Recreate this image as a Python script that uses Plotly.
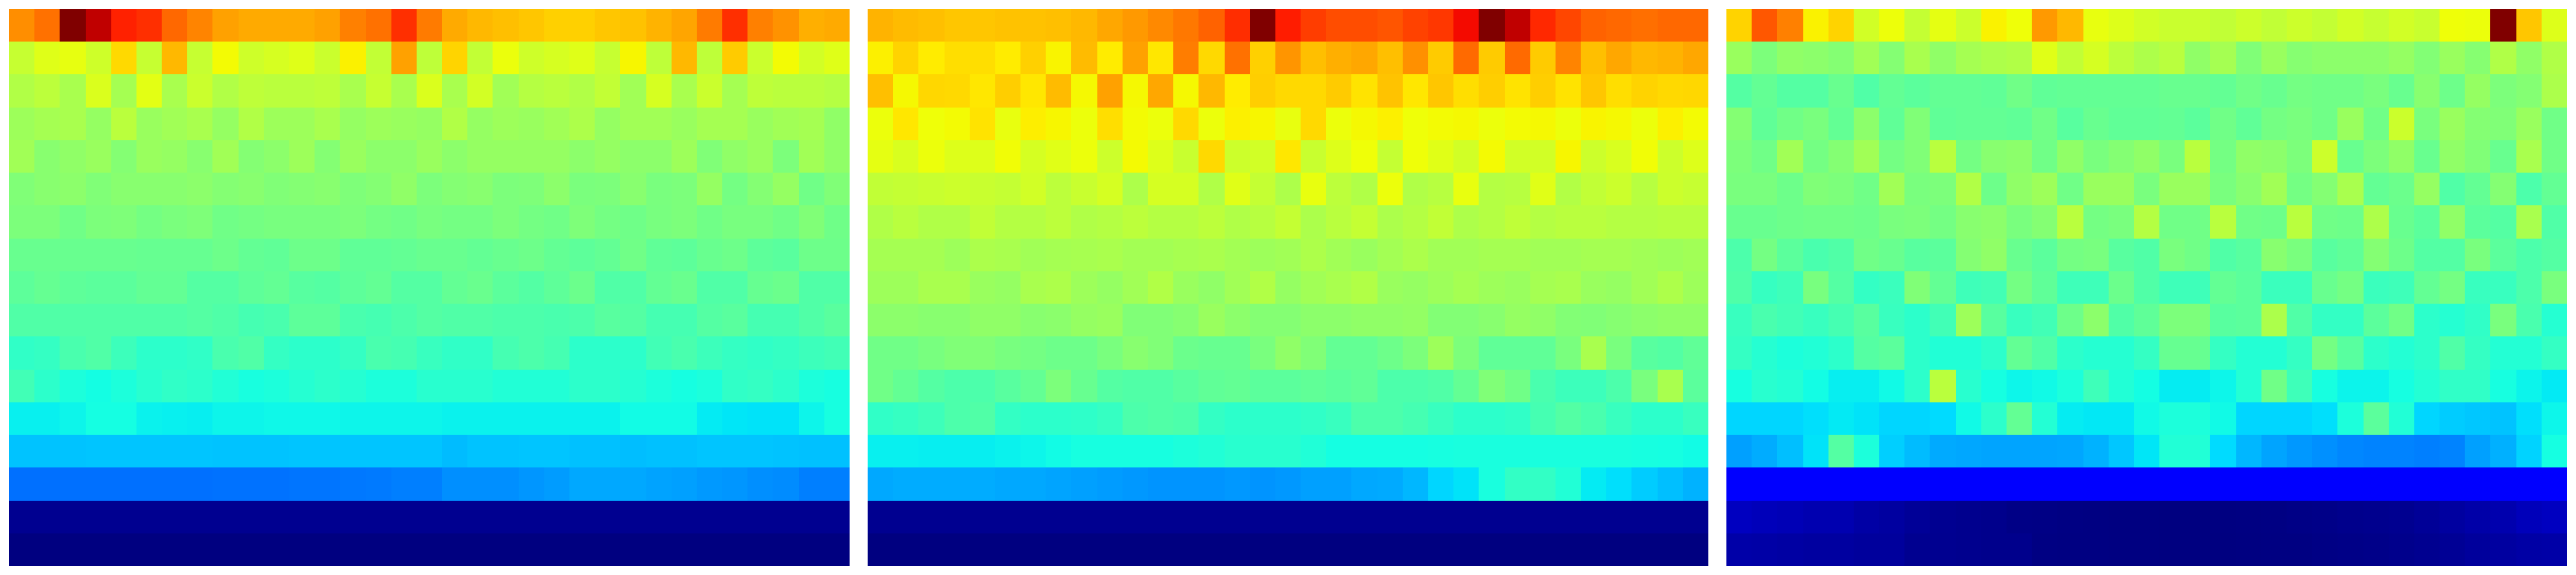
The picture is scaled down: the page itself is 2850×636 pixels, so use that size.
import plotly.graph_objects as go

# Cell values (per mille of the colour range), top row first, 33 columns x 17 rows
panel_a = [
[760,790,1000,945,875,860,800,770,740,730,730,730,740,775,790,860,780,730,715,708,700,690,690,700,705,720,735,780,860,775,755,725,730],
[590,620,630,600,680,590,715,590,645,600,610,620,595,655,585,740,580,685,585,635,600,610,620,590,650,580,715,580,695,595,645,605,620],
[565,578,555,615,550,625,555,595,565,580,575,575,580,555,590,555,615,555,605,545,570,575,565,585,545,610,555,595,550,580,575,575,570],
[540,550,555,530,575,535,545,555,530,565,540,540,555,530,540,535,530,565,530,540,535,545,560,530,545,545,535,550,550,535,545,550,525],
[545,515,525,535,510,535,530,515,545,510,520,540,510,535,520,520,535,520,530,530,530,530,520,530,520,520,540,505,525,535,500,545,525],
[505,515,520,505,515,515,515,520,510,515,505,510,515,503,510,525,500,510,515,500,503,520,498,500,515,496,500,530,490,510,530,486,505],
[500,500,486,500,503,490,498,503,486,490,495,495,495,500,490,486,495,490,490,500,490,486,503,490,484,495,500,486,495,495,486,505,484],
[476,476,476,476,476,474,474,474,482,470,466,482,482,466,466,470,476,476,470,476,482,470,462,470,486,466,462,476,482,462,458,482,482],
[462,472,464,460,460,470,470,452,452,464,470,455,452,462,470,452,452,470,477,460,450,464,480,447,447,470,477,447,447,474,480,447,447],
[447,447,447,447,447,447,447,452,445,433,438,462,462,438,433,442,452,447,447,442,442,438,442,456,452,433,433,452,458,433,433,447,458],
[408,413,438,447,423,403,403,408,438,447,413,403,403,413,438,433,418,408,408,433,442,433,403,403,403,428,438,423,413,408,413,423,428],
[428,403,384,374,384,398,408,403,389,379,384,394,403,394,384,384,398,398,398,389,389,389,403,403,394,384,376,384,408,413,403,384,378],
[360,360,365,375,375,362,360,358,365,365,368,368,368,365,365,365,365,362,362,362,362,362,362,362,372,372,372,355,350,347,347,365,378],
[316,316,316,318,318,318,318,318,316,316,316,318,318,318,318,318,318,310,316,316,318,318,314,314,312,314,314,318,318,318,316,314,314],
[235,235,235,235,235,235,235,235,237,237,237,240,240,243,245,250,250,265,265,265,272,278,290,290,290,285,282,275,272,265,262,250,250],
[14]*33,
[0]*33,
]

panel_b = [
[720,712,708,700,700,705,705,708,715,733,748,765,783,806,862,1000,880,845,828,828,820,840,852,900,1000,945,868,836,806,800,792,800,800],
[656,686,660,675,675,660,690,652,712,660,740,665,778,680,790,690,752,708,725,733,708,758,695,798,695,798,695,770,708,733,715,720,733],
[708,648,682,680,665,692,665,712,648,740,648,733,648,715,660,692,680,680,695,670,703,665,700,675,692,670,692,670,700,675,686,680,682],
[636,665,640,645,670,632,658,650,636,675,645,636,680,636,656,650,632,680,636,648,656,640,645,648,636,645,648,636,652,648,636,656,645],
[628,612,636,618,618,642,608,622,636,598,646,618,592,680,598,604,665,592,618,640,588,640,622,604,646,604,604,650,598,612,642,598,618],
[584,588,592,598,592,588,604,578,592,608,560,608,608,564,622,588,560,632,578,564,636,564,572,632,568,572,622,566,584,596,572,596,590],
[564,574,564,564,584,568,568,578,564,568,578,568,568,578,564,572,588,558,574,588,558,568,584,560,568,582,568,574,574,568,568,572,572],
[550,550,550,540,558,555,545,550,552,556,548,548,552,556,548,540,545,560,545,535,548,558,545,545,550,550,545,545,550,550,545,540,545],
[540,540,555,555,535,530,555,560,540,530,545,565,535,525,545,565,530,545,555,565,535,530,540,550,540,535,550,555,535,530,545,560,540],
[520,520,515,515,525,525,515,518,530,535,505,505,512,535,520,510,510,520,520,525,525,528,508,508,515,530,525,508,505,512,520,525,525],
[486,486,495,505,505,495,490,482,482,497,515,505,480,475,475,497,525,505,470,470,482,500,540,500,466,466,466,497,555,497,456,450,466],
[486,470,452,442,442,456,470,500,475,452,447,447,456,466,470,460,460,466,460,466,442,442,447,470,505,486,438,423,423,442,497,555,460],
[408,414,424,442,447,412,403,403,405,414,442,447,442,412,403,403,403,408,418,442,442,433,418,403,403,408,433,450,438,418,403,403,418],
[360,360,358,358,358,362,366,372,378,378,378,378,384,390,398,398,398,388,375,375,375,375,378,380,380,380,380,380,380,380,378,376,372],
[290,294,294,294,294,290,290,286,282,278,274,270,270,270,274,270,274,282,282,290,292,305,335,347,380,410,410,390,355,344,325,313,300],
[14]*33,
[0]*33,
]

panel_c = [
[686,818,775,654,686,604,638,588,628,596,654,640,748,715,632,618,604,594,594,584,598,584,598,586,604,590,604,592,640,636,1000,700,618],
[535,500,525,520,510,545,510,555,525,550,560,565,622,584,608,578,560,574,525,550,505,535,512,520,520,520,530,508,535,512,564,525,564],
[452,470,452,452,476,447,470,460,470,470,466,486,466,470,470,470,470,476,476,470,486,476,490,486,486,497,476,515,482,530,500,510,558],
[510,466,486,497,470,520,466,505,466,470,470,466,486,456,476,466,466,470,460,486,466,490,497,486,535,486,596,497,535,510,505,535,486],
[500,486,545,490,510,545,490,505,574,490,515,520,486,525,497,510,525,497,574,490,525,520,500,598,476,500,525,476,525,505,476,555,486],
[497,497,482,505,500,486,545,497,500,565,482,525,540,486,535,535,497,535,535,497,515,545,490,510,555,470,480,530,447,470,510,442,470],
[476,476,482,486,486,482,497,500,490,515,520,497,510,574,490,497,568,486,486,574,486,482,574,486,482,560,476,460,525,460,452,555,447],
[442,490,460,438,447,486,476,456,460,510,525,476,460,490,495,456,447,497,486,447,456,515,497,456,466,510,482,450,450,497,460,442,452],
[445,415,425,495,452,412,420,505,470,425,430,490,465,425,425,480,447,425,425,470,460,420,420,476,490,420,425,470,490,418,418,442,497],
[418,438,428,418,433,456,418,403,428,540,456,418,428,482,520,447,465,500,500,456,460,558,447,412,412,460,486,403,394,408,497,438,394],
[413,394,384,389,403,452,460,403,389,389,403,470,447,403,394,394,413,474,474,413,392,392,413,490,456,403,392,403,447,413,392,392,413],
[378,398,392,373,358,358,370,403,576,398,376,366,370,384,425,389,374,356,356,366,392,486,425,378,364,364,376,392,408,408,378,364,354],
[335,335,335,344,354,347,335,335,340,370,403,470,392,356,352,352,370,384,384,370,335,335,335,344,384,460,390,335,325,320,316,344,366],
[282,294,313,347,452,384,328,310,292,289,286,286,286,288,300,320,350,390,390,340,305,286,274,266,258,254,254,250,254,282,298,332,376],
[120]*33,
[55,50,47,42,42,32,28,20,15,12,10,5,4,3,2,1,1,0,0,1,2,3,5,7,10,12,14,20,28,35,40,50,55],
[35,33,30,28,28,24,24,14,14,12,10,10,3,2,2,1,1,0,0,0,1,2,2,4,6,8,10,14,18,24,28,32,34],
]

panels = [panel_a, panel_b, panel_c]

jet = [
    [0.0, "rgb(0,0,128)"], [0.11, "rgb(0,0,255)"], [0.125, "rgb(0,0,255)"],
    [0.34, "rgb(0,219,255)"], [0.35, "rgb(0,230,247)"], [0.375, "rgb(21,255,226)"],
    [0.64, "rgb(239,255,8)"], [0.65, "rgb(247,246,0)"], [0.66, "rgb(255,236,0)"],
    [0.89, "rgb(255,19,0)"], [0.91, "rgb(232,0,0)"], [1.0, "rgb(128,0,0)"],
]

W, H = 2850, 636
x_spans = [(10, 940), (960, 1890), (1910, 2840)]
y_top, y_bottom = 10, 626

fig = go.Figure()
layout = dict(
    width=W, height=H, margin=dict(l=0, r=0, t=0, b=0),
    paper_bgcolor="white", plot_bgcolor="white", showlegend=False,
)
for i, (data, (x0, x1)) in enumerate(zip(panels, x_spans)):
    suffix = "" if i == 0 else str(i + 1)
    fig.add_trace(go.Heatmap(
        z=data, zmin=0, zmax=1000, colorscale=jet, showscale=False, zsmooth=False,
        xaxis="x" + suffix, yaxis="y" + suffix,
    ))
    layout["xaxis" + suffix] = dict(domain=[x0 / W, x1 / W], visible=False, anchor="y" + suffix)
    layout["yaxis" + suffix] = dict(
        domain=[(H - y_bottom) / H, (H - y_top) / H], visible=False,
        autorange="reversed", anchor="x" + suffix,
    )
fig.update_layout(**layout)
fig.write_html("out.html", config={"displayModeBar": False},
               post_script="document.body.style.margin='0';")
